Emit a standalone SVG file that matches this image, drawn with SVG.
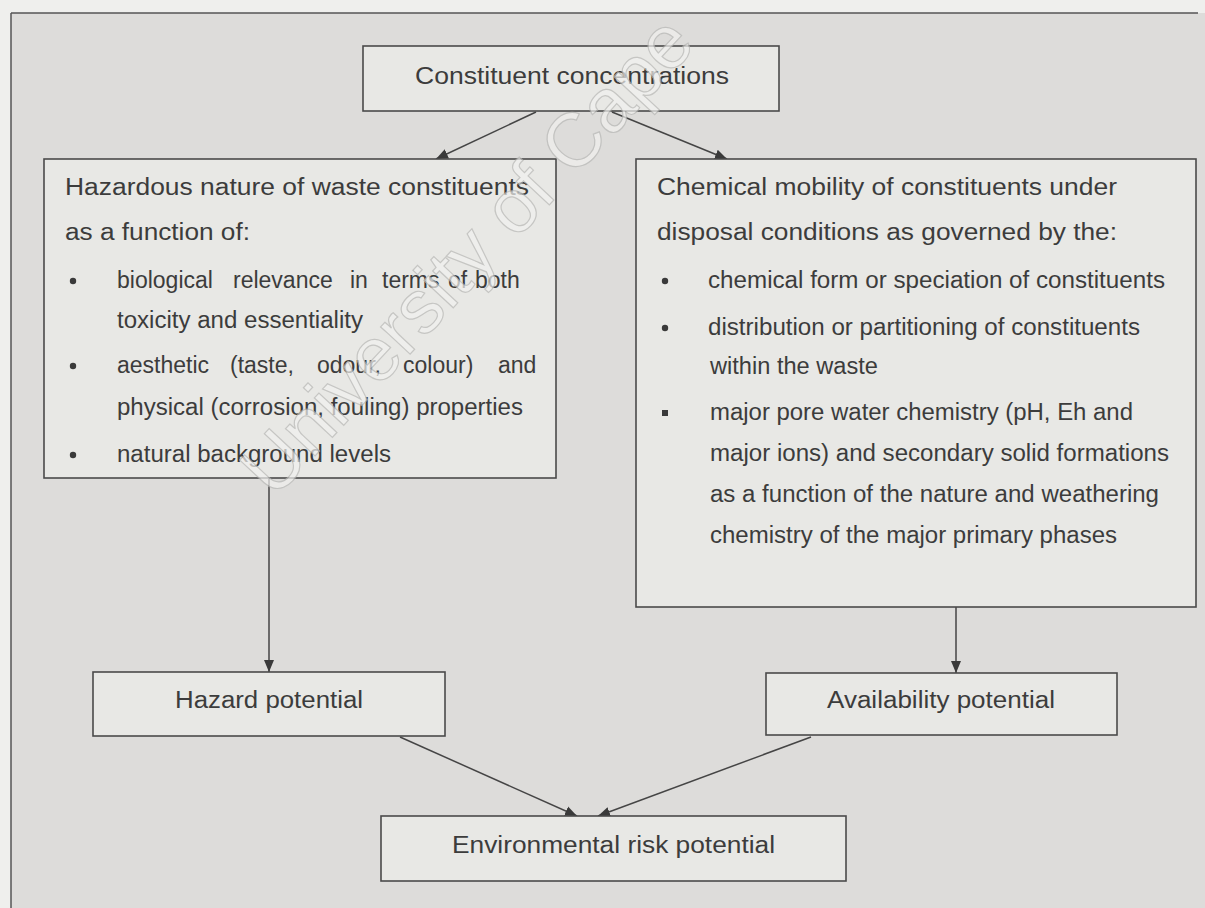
<svg xmlns="http://www.w3.org/2000/svg" width="1205" height="908" viewBox="0 0 1205 908">
  <style>
    .node rect { fill: #e8e8e5; stroke: #4a4a4a; stroke-width: 1.6; }
    .t { font-family: "Liberation Sans", Arial, Helvetica, sans-serif; font-size: 23px; fill: #3c3c3c; }
    .edge { stroke: #454545; stroke-width: 1.5; fill: none; marker-end: url(#arrow); }
    .bullet { fill: #3a3a3a; }
    .mark { font-family: "Liberation Sans", Arial, sans-serif; font-size: 76px; fill: #f1f1ef; stroke: #b8b8b6; stroke-width: 1.2; opacity: 0.7; }
  </style>
  <defs>
    <marker id="arrow" markerUnits="userSpaceOnUse" markerWidth="12" markerHeight="12" viewBox="0 0 12 12" refX="12" refY="6" orient="auto">
      <path d="M0,1 L12,6 L0,11 Z" fill="#3a3a3a"/>
    </marker>
  </defs>

  <!-- page and frame -->
  <rect x="0" y="0" width="1205" height="908" fill="#efefed"/>
  <rect x="11" y="13" width="1194" height="895" fill="#dddcda"/>
  <line x1="11" y1="13" x2="1198" y2="13" stroke="#555" stroke-width="1.5"/>
  <line x1="11" y1="13" x2="11" y2="908" stroke="#555" stroke-width="1.5"/>

  <!-- connectors -->
  <g id="connectors">
    <line class="edge" x1="536" y1="112" x2="436" y2="159"/>
    <line class="edge" x1="612" y1="112" x2="727" y2="159"/>
    <line class="edge" x1="269" y1="478" x2="269" y2="672"/>
    <line class="edge" x1="956" y1="607" x2="956" y2="673"/>
    <line class="edge" x1="400" y1="737" x2="577" y2="816"/>
    <line class="edge" x1="811" y1="737" x2="598" y2="816"/>
  </g>

  <!-- top node -->
  <g id="constituent-concentrations" class="node">
    <rect x="363" y="46" width="416" height="65"/>
    <text class="t" x="415" y="84" textLength="314" lengthAdjust="spacingAndGlyphs">Constituent concentrations</text>
  </g>

  <!-- hazardous nature node -->
  <g id="hazardous-nature" class="node">
    <rect x="44" y="159" width="512" height="319"/>
    <text class="t" x="65" y="195" textLength="464" lengthAdjust="spacingAndGlyphs">Hazardous nature of waste constituents</text>
    <text class="t" x="65" y="240" textLength="185" lengthAdjust="spacingAndGlyphs">as a function of:</text>
    <circle class="bullet" cx="73" cy="281" r="3.2"/>
    <text class="t" y="288"><tspan x="117">biological</tspan><tspan x="233">relevance</tspan><tspan x="350">in</tspan><tspan x="382">terms</tspan><tspan x="448">of</tspan><tspan x="475">both</tspan></text>
    <text class="t" x="117" y="328" textLength="246" lengthAdjust="spacingAndGlyphs">toxicity and essentiality</text>
    <circle class="bullet" cx="73" cy="366" r="3.2"/>
    <text class="t" y="373"><tspan x="117">aesthetic</tspan><tspan x="230">(taste,</tspan><tspan x="317">odour,</tspan><tspan x="403">colour)</tspan><tspan x="498">and</tspan></text>
    <text class="t" x="117" y="415" textLength="406" lengthAdjust="spacingAndGlyphs">physical (corrosion, fouling) properties</text>
    <circle class="bullet" cx="73" cy="455" r="3.2"/>
    <text class="t" x="117" y="462" textLength="274" lengthAdjust="spacingAndGlyphs">natural background levels</text>
  </g>

  <!-- chemical mobility node -->
  <g id="chemical-mobility" class="node">
    <rect x="636" y="159" width="560" height="448"/>
    <text class="t" x="657" y="195" textLength="460" lengthAdjust="spacingAndGlyphs">Chemical mobility of constituents under</text>
    <text class="t" x="657" y="240" textLength="460" lengthAdjust="spacingAndGlyphs">disposal conditions as governed by the:</text>
    <circle class="bullet" cx="665" cy="281" r="3.2"/>
    <text class="t" x="708" y="288" textLength="457" lengthAdjust="spacingAndGlyphs">chemical form or speciation of constituents</text>
    <circle class="bullet" cx="665" cy="328" r="3.2"/>
    <text class="t" x="708" y="335" textLength="432" lengthAdjust="spacingAndGlyphs">distribution or partitioning of constituents</text>
    <text class="t" x="710" y="374" textLength="168" lengthAdjust="spacingAndGlyphs">within the waste</text>
    <rect x="662" y="410" width="6" height="6" style="fill:#3a3a3a;stroke:none"/>
    <text class="t" x="710" y="420" textLength="423" lengthAdjust="spacingAndGlyphs">major pore water chemistry (pH, Eh and</text>
    <text class="t" x="710" y="461" textLength="459" lengthAdjust="spacingAndGlyphs">major ions) and secondary solid formations</text>
    <text class="t" x="710" y="502" textLength="449" lengthAdjust="spacingAndGlyphs">as a function of the nature and weathering</text>
    <text class="t" x="710" y="543" textLength="407" lengthAdjust="spacingAndGlyphs">chemistry of the major primary phases</text>
  </g>

  <!-- hazard potential node -->
  <g id="hazard-potential" class="node">
    <rect x="93" y="672" width="352" height="64"/>
    <text class="t" x="175" y="708" textLength="188" lengthAdjust="spacingAndGlyphs">Hazard potential</text>
  </g>

  <!-- availability potential node -->
  <g id="availability-potential" class="node">
    <rect x="766" y="673" width="351" height="62"/>
    <text class="t" x="827" y="708" textLength="228" lengthAdjust="spacingAndGlyphs">Availability potential</text>
  </g>

  <!-- environmental risk potential node -->
  <g id="environmental-risk-potential" class="node">
    <rect x="381" y="816" width="465" height="65"/>
    <text class="t" x="452" y="853" textLength="323" lengthAdjust="spacingAndGlyphs">Environmental risk potential</text>
  </g>

  <!-- library watermark -->
  <text class="mark" transform="translate(274,500) rotate(-47)">University of Cape</text>
</svg>
